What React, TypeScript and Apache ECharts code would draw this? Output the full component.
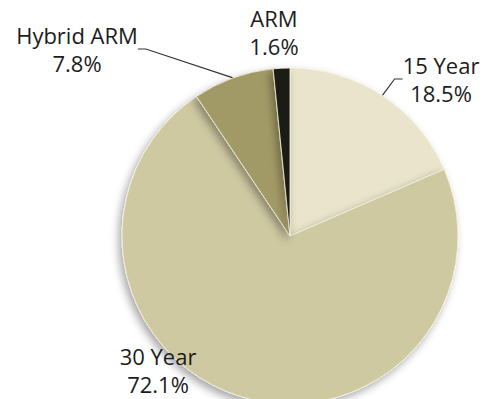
import React, { useEffect, useRef } from "react";
import * as echarts from "echarts";

const categories = ["15 Year", "30 Year", "Hybrid ARM", "ARM"];
const shares = [18.5, 72.1, 7.8, 1.6];
const sliceColors = ["#E9E4CB", "#CFC9A2", "#A29A66", "#1F1C12"];
const showGuide = [true, false, true, false];
// label centres (px) in the 482x399 canvas
const labelCenters: [number, number][] = [
  [441, 79],
  [158, 370],
  [77, 49],
  [274, 32],
];

export default function App() {
  const ref = useRef<HTMLDivElement>(null);
  useEffect(() => {
    if (!ref.current) return;
    const chart = echarts.init(ref.current, undefined, { renderer: "svg" });
    const data = categories.map((name, i) => ({
      name,
      value: shares[i],
      itemStyle: { color: sliceColors[i] },
      labelLine: { show: showGuide[i] },
    }));
    chart.setOption({
      animation: false,
      backgroundColor: "#ffffff",
      series: [
        {
          type: "pie",
          center: [290, 236],
          radius: [0, 168],
          startAngle: 90,
          clockwise: true,
          data,
          itemStyle: {
            borderColor: "rgba(245,242,225,0.8)",
            borderWidth: 1,
            shadowBlur: 8,
            shadowColor: "rgba(0,0,0,0.35)",
            shadowOffsetX: -3,
            shadowOffsetY: 4,
          },
          label: {
            show: true,
            position: "outside",
            overflow: "none",
            formatter: (p: any) => `${p.name}\n${Number(p.value).toFixed(1)}%`,
            fontFamily: "Open Sans",
            fontSize: 22,
            lineHeight: 28,
            color: "#1c1c1c",
            align: "center",
          },
          labelLine: {
            show: true,
            length: 20,
            length2: 8,
            lineStyle: { color: "#333333", width: 1.2 },
          },
          labelLayout: (params: any) => {
            const c = labelCenters[params.dataIndex];
            return {
              x: c[0],
              y: c[1],
              align: "center",
              verticalAlign: "middle",
            };
          },
          emphasis: { disabled: true },
        },
      ],
    });
    return () => chart.dispose();
  }, []);
  return (
    <div
      ref={ref}
      style={{ position: "absolute", left: 0, top: 0, width: 482, height: 399 }}
    />
  );
}
